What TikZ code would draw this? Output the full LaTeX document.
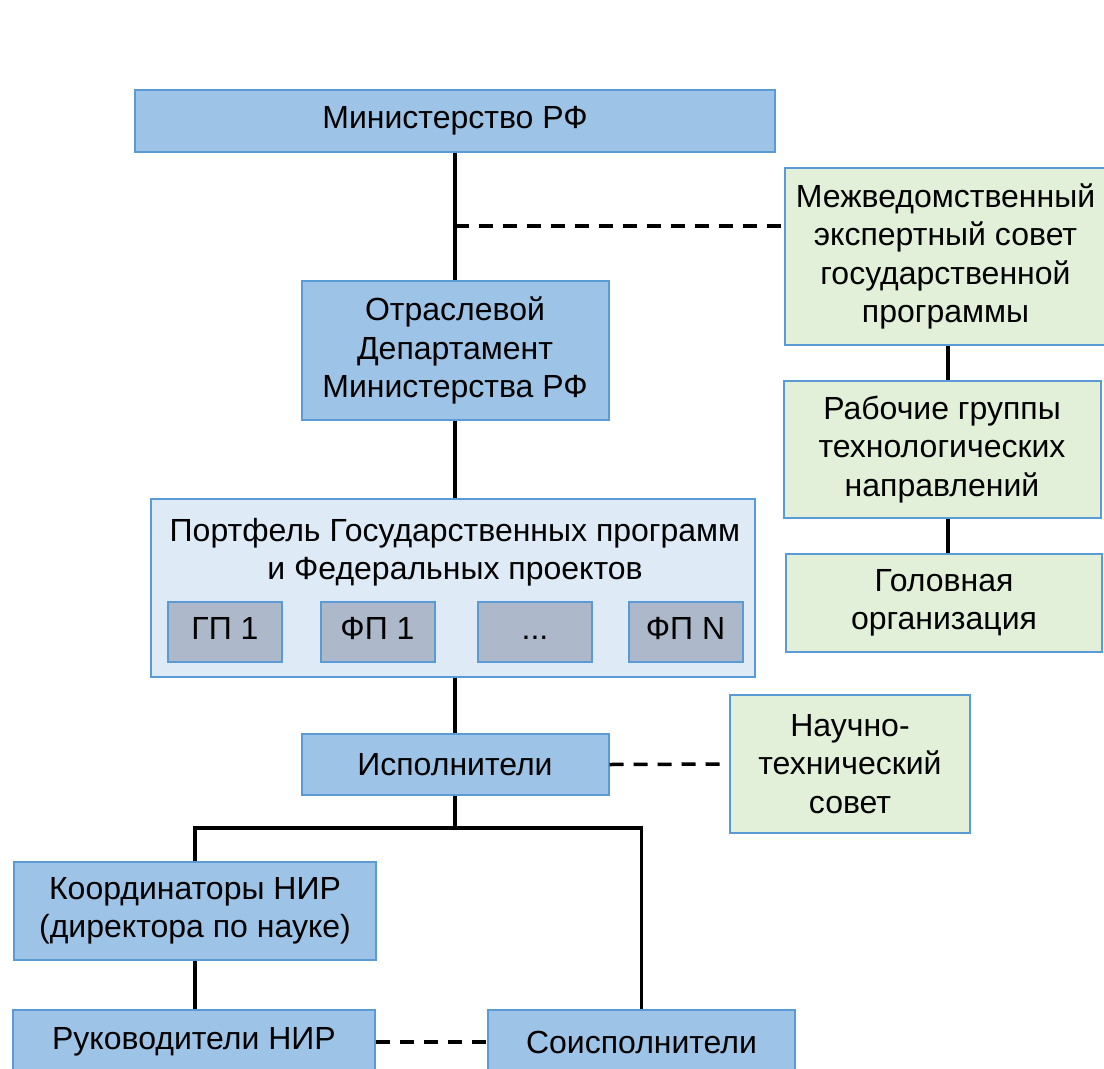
\documentclass[tikz,border=0pt]{standalone}
\usepackage{fontspec}
\setmainfont{Liberation Sans}
\definecolor{boxblue}{HTML}{9DC3E6}
\definecolor{edgeblue}{HTML}{5B9BD5}
\definecolor{boxgreen}{HTML}{E2F0D9}
\definecolor{portfill}{HTML}{DEEBF7}
\definecolor{subfill}{HTML}{ADB9CA}
\newcommand{\subdots}{...}
\tikzset{
	box/.style={draw=edgeblue, line width=2pt, fill=boxblue, inner sep=0pt, align=center,
		font=\fontsize{32}{38.5}\selectfont},
	greenbox/.style={box, fill=boxgreen},
	subbox/.style={box, fill=subfill, minimum width=114pt, minimum height=60pt},
	link/.style={line width=3.5pt},
	dlink/.style={line width=3.5pt, dash pattern=on 14pt off 10pt}
}

\begin{document}
\begin{tikzpicture}[x=1pt, y=-1pt]
	\useasboundingbox[fill=white] (0,0) rectangle (1104,1069);

	\node[box, minimum width=640pt, minimum height=62pt] (min) at (455,121) {Министерство РФ};
	\node[greenbox, minimum width=321pt, minimum height=177pt] (mej) at (945.5,256.5) {Межведомственный\\экспертный совет\\государственной\\программы};
	\node[box, minimum width=307pt, minimum height=139pt] (otr) at (455,350.5) {Отраслевой\\Департамент\\Министерства РФ};
	\node[greenbox, minimum width=317pt, minimum height=137pt] (rab) at (942,449.5) {Рабочие группы\\технологических\\направлений};
	\node[greenbox, minimum width=316pt, minimum height=98pt] (gol) at (944,603) {Головная\\организация};

	\node[box, fill=portfill, minimum width=604pt, minimum height=178pt] (port) at (453,588) {};
	\node[align=center, font=\fontsize{32}{38.5}\selectfont] (porttitle) at (455,552) {Портфель Государственных программ\\и Федеральных проектов};
	\foreach \x/\t [count=\i] in {225/ГП 1, 377.5/ФП 1, 535/\subdots, 685.5/ФП N} {
		\node[subbox] (sub\i) at (\x,632) {\strut\t};
	}

	\node[box, minimum width=307pt, minimum height=61pt] (isp) at (455,764.5) {Исполнители};
	\node[greenbox, minimum width=240pt, minimum height=138pt] (nts) at (850,764) {Научно-\\технический\\совет};
	\node[box, minimum width=362pt, minimum height=98pt] (koord) at (195,911) {Координаторы НИР\\(директора по науке)};
	\node[box, minimum width=362pt, minimum height=64pt] (ruk) at (194,1042) {Руководители НИР};
	\node[box, minimum width=307pt, minimum height=64pt] (soisp) at (641.5,1042) {Соисполнители};

	\coordinate (j1) at (455,226);
	\coordinate (j2) at (455,828);

	\draw[link] (min.south) -- (otr.north);
	\draw[dlink] (j1) -- (j1 -| mej.west);
	\draw[link] (otr.south) -- (otr.south |- port.north);
	\draw[link] (port.south -| isp.north) -- (isp.north);
	\draw[dlink] (isp.east) -- (nts.west);
	\draw[link] (mej.south -| 948,0) -- (rab.north -| 948,0);
	\draw[link] (rab.south -| 948,0) -- (gol.north -| 948,0);
	\draw[link] (isp.south) -- (j2);
	\draw[link] (koord.north) |- (j2) -| (soisp.north);
	\draw[link] (koord.south) -- (koord.south |- ruk.north);
	\draw[dlink] (ruk.east) -- (soisp.west);
\end{tikzpicture}
\end{document}
